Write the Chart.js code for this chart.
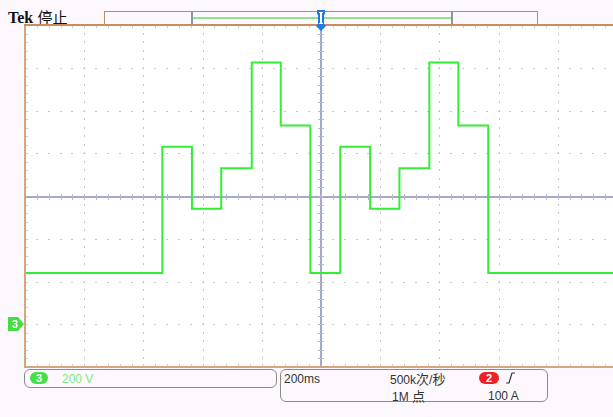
<!DOCTYPE html>
<html>
<head>
<meta charset="utf-8">
<script src="https://cdn.jsdelivr.net/npm/chart.js@4/dist/chart.umd.min.js"></script>
<style>
  html, body { margin: 0; padding: 0; }
  body {
    width: 613px; height: 417px; overflow: hidden; position: relative;
    background: #fdf8fd;
    font-family: "Liberation Sans", Arial, "Noto Sans CJK SC", sans-serif;
  }
  #scope { position: absolute; left: 0; top: 0; z-index: 2; }
  .txt { position: absolute; white-space: nowrap; line-height: 1; }
  .cjk { font-family: "Noto Sans CJK SC", sans-serif; }
  #brand { left: 8px; top: 9px; font-size: 15px; color: #111; }
  #brand b { font-family: "Liberation Serif", serif; font-weight: bold; font-size: 16px; }
  #recbar {
    position: absolute; left: 104px; top: 11px; width: 432px; height: 13px;
    border: 1px solid #b98c68; border-bottom: none; background: #fdf8fd;
  }
  #window {
    position: absolute; left: 86px; top: 0; width: 258px; height: 13px;
    border-left: 2px solid #8c93ad; border-right: 2px solid #8c93ad;
  }
  #window::after {
    content: ""; position: absolute; left: 0; right: 0; top: 5px; height: 2px; background: #8be68b;
  }
  .box {
    position: absolute; border: 1.5px solid #8a8a8a; border-radius: 6px; box-sizing: border-box;
  }
  #chbox { left: 24px; top: 369px; width: 253px; height: 19px; }
  #hbox { left: 280px; top: 369px; width: 268px; height: 33px; }
  .pill {
    position: absolute; height: 12px; border-radius: 6px; color: #fff;
    font-size: 11px; font-weight: bold; text-align: center; line-height: 12px;
  }
  #p3 { left: 30px; top: 372px; width: 18px; background: #45e045; }
  #p2 { left: 479px; top: 372px; width: 20px; background: #ee2222; }
  .st { font-size: 12px; color: #333; }
</style>
</head>
<body>
<canvas id="scope" width="620" height="417"></canvas>

<div class="txt" id="brand"><b>Tek</b> <span class="cjk">停止</span></div>
<div id="recbar"><div id="window"></div></div>

<div class="box" id="chbox"></div>
<div class="pill" id="p3">3</div>
<div class="txt" style="left:62px; top:373px; font-size:12px; color:#80e880;">200 V</div>

<div class="box" id="hbox"></div>
<div class="txt st" style="left:284px; top:373px;">200ms</div>
<div class="txt st" style="left:390px; top:372px;">500k<span class="cjk" style="font-size:13px">次</span>/<span class="cjk" style="font-size:13px">秒</span></div>
<div class="pill" id="p2">2</div>
<div class="txt st" style="left:392px; top:389px;">1M <span class="cjk" style="font-size:13px">点</span></div>
<div class="txt st" style="left:488px; top:390px;">100 A</div>

<script>
// Channel 3 capture: 200 V/div, 200 ms/div, trigger at t = 0
// Each entry: time the level starts (ms) and the level held until the next entry (V)
const timesMs = [-1000, -536, -436, -337, -234, -136, -36, 65, 166, 265, 366, 464, 565, 1000];
const voltsCh3 = [240, 830, 540, 730, 1225, 930, 240, 830, 540, 730, 1225, 930, 240, 240];

// Graticule: 10 x 8 divisions
const timeRange = [-1000, 1000];   // ms
const voltRange = [-200, 1400];    // V (ground of channel 3 three divisions below centre)
const timePerDiv = 200;
const voltPerDiv = 200;
const minorPerDiv = 5;

const points = timesMs.map((t, i) => ({ x: t, y: voltsCh3[i] }));

const graticule = {
  id: 'graticule',
  beforeDraw(chart) {
    const { ctx, chartArea: a } = chart;
    ctx.save();
    ctx.fillStyle = '#ffffff';
    ctx.fillRect(a.left, a.top, a.right - a.left, a.bottom - a.top);
    ctx.restore();
  },
  beforeDatasetsDraw(chart) {
    const { ctx, chartArea: a, scales: { x, y } } = chart;
    const xMinorStep = timePerDiv / minorPerDiv;
    const yMinorStep = voltPerDiv / minorPerDiv;
    const xMinors = [], yMinors = [], xMajors = [], yMajors = [];
    for (let t = timeRange[0]; t <= timeRange[1] + 1e-6; t += xMinorStep) xMinors.push(t);
    for (let v = voltRange[0]; v <= voltRange[1] + 1e-6; v += yMinorStep) yMinors.push(v);
    for (let t = timeRange[0]; t <= timeRange[1]; t += timePerDiv) xMajors.push(t);
    for (let v = voltRange[0]; v <= voltRange[1]; v += voltPerDiv) yMajors.push(v);
    const cx = Math.round(x.getPixelForValue(0));
    const cy = Math.round(y.getPixelForValue((voltRange[0] + voltRange[1]) / 2));

    ctx.save();
    // dotted division lines
    ctx.fillStyle = '#c3c7d6';
    xMajors.forEach(t => {
      const px = Math.round(x.getPixelForValue(t));
      yMinors.forEach(v => ctx.fillRect(px, Math.round(y.getPixelForValue(v)) - 1, 1, 2));
    });
    yMajors.forEach(v => {
      const py = Math.round(y.getPixelForValue(v));
      xMinors.forEach(t => ctx.fillRect(Math.round(x.getPixelForValue(t)) - 1, py, 2, 1));
    });

    // edge ticks
    ctx.fillStyle = '#c8ccda';
    yMinors.forEach(v => {
      const py = Math.round(y.getPixelForValue(v));
      ctx.fillRect(a.left, py, 3, 1);
    });
    xMinors.forEach(t => {
      const px = Math.round(x.getPixelForValue(t));
      ctx.fillRect(px, a.top, 1, 3);
      ctx.fillRect(px, a.bottom - 3, 1, 3);
    });

    // centre cross with minor ticks
    ctx.fillStyle = '#a3a9c6';
    ctx.fillRect(cx - 1, a.top, 2, a.bottom - a.top);
    ctx.fillRect(a.left, cy, a.right - a.left, 2);
    ctx.fillStyle = '#b4b9d2';
    yMinors.forEach(v => {
      const py = Math.round(y.getPixelForValue(v));
      ctx.fillRect(cx - 3, py, 6, 1);
    });
    xMinors.forEach(t => {
      const px = Math.round(x.getPixelForValue(t));
      ctx.fillRect(px, cy - 2, 1, 6);
    });
    ctx.restore();
  },
  afterDraw(chart) {
    const { ctx, chartArea: a, scales: { x, y } } = chart;
    ctx.save();
    // frame
    ctx.fillStyle = '#d5a67c';
    ctx.fillRect(a.left - 1, a.top - 1, 2, a.bottom - a.top + 2);
    ctx.fillRect(a.left - 1, a.bottom - 1, a.right - a.left + 2, 2);
    ctx.fillStyle = '#c98e5c';
    ctx.fillRect(a.left - 1, a.top - 1, a.right - a.left + 2, 2);

    // channel 3 ground marker
    const g = Math.round(y.getPixelForValue(0));
    ctx.fillStyle = '#44dd44';
    ctx.beginPath();
    ctx.moveTo(8, g - 7);
    ctx.lineTo(18, g - 7);
    ctx.lineTo(24, g);
    ctx.lineTo(18, g + 7);
    ctx.lineTo(8, g + 7);
    ctx.closePath();
    ctx.fill();
    ctx.fillStyle = '#ffffff';
    ctx.font = 'bold 11px "Liberation Sans", Arial, sans-serif';
    ctx.textAlign = 'center';
    ctx.textBaseline = 'middle';
    ctx.fillText('3', 15, g + 1);

    // trigger position marker
    const tx = Math.round(x.getPixelForValue(0));
    ctx.fillStyle = '#1f7ae8';
    ctx.beginPath();
    ctx.moveTo(tx - 4, 10);
    ctx.lineTo(tx + 4, 10);
    ctx.lineTo(tx + 4, 14);
    ctx.lineTo(tx + 3, 15);
    ctx.lineTo(tx + 3, 24);
    ctx.lineTo(tx + 5, 26);
    ctx.lineTo(tx, 31);
    ctx.lineTo(tx - 5, 26);
    ctx.lineTo(tx - 3, 24);
    ctx.lineTo(tx - 3, 15);
    ctx.lineTo(tx - 4, 14);
    ctx.closePath();
    ctx.fill();
    ctx.fillStyle = '#ffffff';
    ctx.fillRect(tx - 2, 12, 4, 1);
    ctx.fillRect(tx - 1, 12, 2, 12);
    ctx.fillRect(tx - 2, 23, 4, 1);

    // rising-edge trigger slope symbol
    ctx.strokeStyle = '#333333';
    ctx.lineWidth = 1.2;
    ctx.beginPath();
    ctx.moveTo(506, 383);
    ctx.lineTo(509, 383);
    ctx.lineTo(512, 373);
    ctx.lineTo(515, 373);
    ctx.stroke();
    ctx.restore();
  }
};

new Chart(document.getElementById('scope'), {
  type: 'line',
  data: {
    datasets: [{
      data: points,
      stepped: 'before',
      borderColor: '#33ee33',
      borderWidth: 2,
      pointRadius: 0,
      fill: false
    }]
  },
  options: {
    responsive: false,
    animation: false,
    events: [],
    layout: { padding: { left: 25, top: 25, right: 3, bottom: 50 } },
    plugins: { legend: { display: false }, tooltip: { enabled: false }, title: { display: false } },
    scales: {
      x: { type: 'linear', min: timeRange[0], max: timeRange[1], display: false },
      y: { type: 'linear', min: voltRange[0], max: voltRange[1], display: false }
    }
  },
  plugins: [graticule]
});
</script>
</body>
</html>
